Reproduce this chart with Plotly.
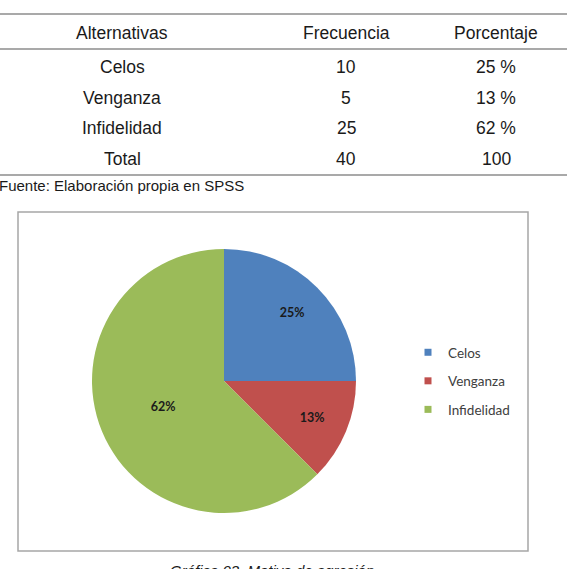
import plotly.graph_objects as go

W, H = 567, 569

# ---- data ----
headers = ["Alternativas", "Frecuencia", "Porcentaje"]
categories = ["Celos", "Venganza", "Infidelidad"]
frequencies = [10, 5, 25]
percentages = [25, 13, 62]
total_label = "Total"
total_freq = 40
total_pct = 100
colors = ["#4F81BD", "#C0504D", "#9BBB59"]
source_text = "Fuente: Elaboración propia en SPSS"
caption_text = "Gráfica 03. Motivo de agresión"

# ---- layout helpers (pixel -> paper) ----
def fx(px):
    return px / W

def fy(py):
    return 1 - py / H

col_x = [122, 346, 496]
header_y = 33
row_y0, row_step = 67, 30.5
table_font = dict(family="Liberation Sans, Arial", size=17.5, color="#1a1a1a")
pie_domain = dict(x=[fx(92), fx(356)], y=[fy(513), fy(249)])
label_font = dict(family="Lato", size=12.5, color="#1a1a1a", weight="bold")
pct_text = [f"{p}%" for p in percentages]

fig = go.Figure()

# main pie (labels for the two last slices)
fig.add_trace(go.Pie(
    labels=categories,
    values=frequencies,
    text=["" if i == 0 else t for i, t in enumerate(pct_text)],
    textinfo="text",
    textposition="inside",
    insidetextorientation="horizontal",
    sort=False,
    direction="clockwise",
    rotation=0,
    marker=dict(colors=colors, line=dict(width=0)),
    textfont=label_font,
    showlegend=False,
    domain=pie_domain,
))
# transparent overlay pie placing the first slice's label further out
fig.add_trace(go.Pie(
    labels=categories,
    values=frequencies,
    text=[t if i == 0 else "" for i, t in enumerate(pct_text)],
    textinfo="text",
    textposition="inside",
    insidetextorientation="horizontal",
    sort=False,
    direction="clockwise",
    rotation=0,
    hole=0.46,
    marker=dict(colors=["rgba(0,0,0,0)"] * 3, line=dict(width=0)),
    textfont=label_font,
    showlegend=False,
    hoverinfo="skip",
    domain=pie_domain,
))

for c, col in zip(categories, colors):
    fig.add_trace(go.Scatter(
        x=[None], y=[None], mode="markers", name=c, legendgroup=c,
        marker=dict(symbol="square", size=7, color=col),
        showlegend=True, hoverinfo="skip",
    ))

annotations = []
for x, h in zip(col_x, headers):
    annotations.append(dict(x=fx(x), y=fy(header_y), text=h, showarrow=False,
                            xref="paper", yref="paper", xanchor="center",
                            yanchor="middle", font=table_font))
rows = [(c, str(f), f"{p} %") for c, f, p in zip(categories, frequencies, percentages)]
rows.append((total_label, str(total_freq), str(total_pct)))
for i, row in enumerate(rows):
    y = row_y0 + i * row_step
    for x, val in zip(col_x, row):
        annotations.append(dict(x=fx(x), y=fy(y), text=val, showarrow=False,
                                xref="paper", yref="paper", xanchor="center",
                                yanchor="middle", font=table_font))
annotations.append(dict(x=fx(-3), y=fy(185), text=source_text, showarrow=False,
                        xref="paper", yref="paper", xanchor="left", yanchor="middle",
                        font=dict(family="Liberation Sans, Arial", size=15, color="#1a1a1a")))
annotations.append(dict(x=fx(272), y=fy(560), text=f"<i>{caption_text}</i>", showarrow=False,
                        xref="paper", yref="paper", xanchor="center", yanchor="top",
                        font=dict(family="Liberation Sans, Arial", size=15, color="#1a1a1a")))

shapes = []
for ly in [14, 49, 175]:
    shapes.append(dict(type="line", xref="paper", yref="paper",
                       x0=0, x1=1, y0=fy(ly), y1=fy(ly),
                       line=dict(color="#8c8c8c", width=1.5)))
shapes.append(dict(type="rect", xref="paper", yref="paper",
                   x0=fx(18), x1=fx(528), y0=fy(551), y1=fy(212),
                   line=dict(color="#a6a6a6", width=1.5), fillcolor="rgba(0,0,0,0)"))

fig.update_layout(
    width=W, height=H,
    margin=dict(l=0, r=0, t=0, b=0),
    paper_bgcolor="white",
    plot_bgcolor="white",
    xaxis=dict(visible=False),
    yaxis=dict(visible=False),
    annotations=annotations,
    shapes=shapes,
    legend=dict(
        x=fx(408), y=fy(337), xanchor="left", yanchor="top",
        font=dict(family="Lato", size=13.5, color="#404040"),
        traceorder="grouped", tracegroupgap=8,
        bgcolor="rgba(0,0,0,0)",
    ),
)

fig.write_html("out.html")
